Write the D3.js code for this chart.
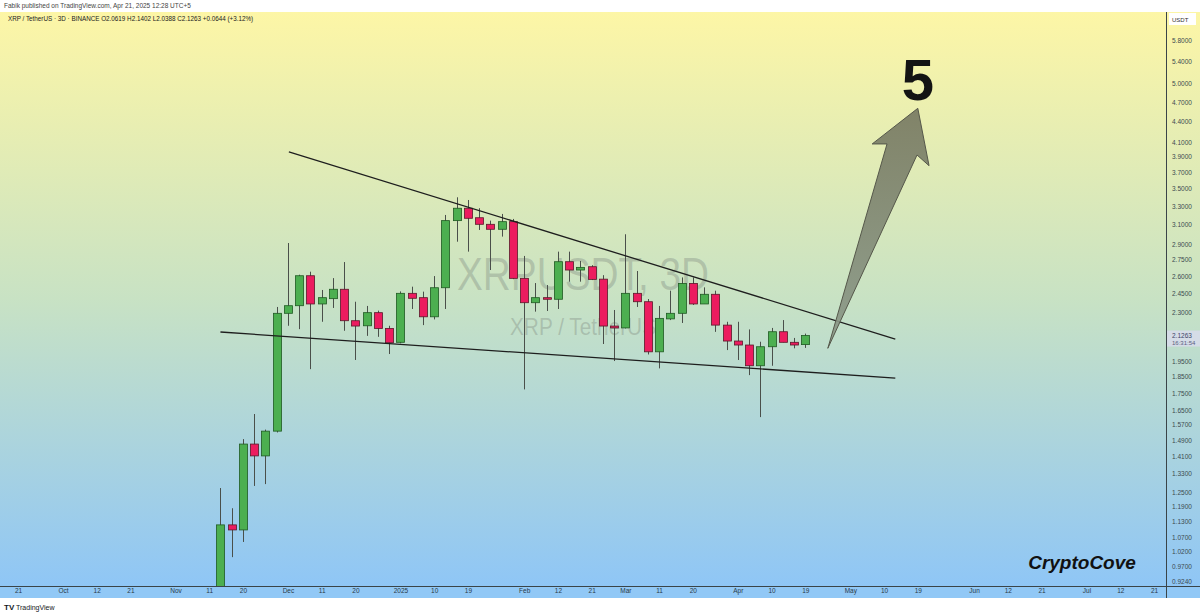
<!DOCTYPE html>
<html>
<head>
<meta charset="utf-8">
<script src="https://cdn.jsdelivr.net/npm/d3@7"></script>
<style>
  body { margin: 0; background: #fff; }
  text { font-family: "Liberation Sans", "DejaVu Sans", sans-serif; }
</style>
</head>
<body>
<div id="chart"></div>
<script>
var w = 1200;
var h = 616;
var plot = {left: 0, right: 1166, top: 12, bottom: 586};

// 3D candles, XRP / TetherUS (Binance)
var candleDates = ["2024-11-14","2024-11-17","2024-11-20","2024-11-23","2024-11-26","2024-11-29",
  "2024-12-02","2024-12-05","2024-12-08","2024-12-11","2024-12-14","2024-12-17","2024-12-20",
  "2024-12-23","2024-12-26","2024-12-29","2025-01-01","2025-01-04","2025-01-07","2025-01-10",
  "2025-01-13","2025-01-16","2025-01-19","2025-01-22","2025-01-25","2025-01-28","2025-01-31",
  "2025-02-03","2025-02-06","2025-02-09","2025-02-12","2025-02-15","2025-02-18","2025-02-21",
  "2025-02-24","2025-02-27","2025-03-02","2025-03-05","2025-03-08","2025-03-11","2025-03-14",
  "2025-03-17","2025-03-20","2025-03-23","2025-03-26","2025-03-29","2025-04-01","2025-04-04",
  "2025-04-07","2025-04-10","2025-04-13","2025-04-16","2025-04-19"];
var opens  = [0.730,1.118,1.099,1.471,1.413,1.537,2.293,2.353,2.605,2.367,2.410,2.488,2.236,
  2.198,2.298,2.178,2.078,2.454,2.418,2.266,2.501,3.141,3.276,3.172,3.102,3.050,3.130,2.582,
  2.377,2.418,2.405,2.732,2.656,2.686,2.575,2.196,2.182,2.454,2.385,2.012,2.250,2.293,2.538,
  2.367,2.446,2.203,2.087,2.059,1.919,2.047,2.154,2.078,2.0619];
var highs  = [1.267,1.183,1.496,1.629,1.545,2.343,2.911,2.614,2.641,2.482,2.584,2.729,2.385,
  2.351,2.314,2.198,2.470,2.510,2.468,2.602,3.202,3.400,3.369,3.276,3.141,3.213,3.159,2.786,
  2.541,2.524,2.827,2.827,2.739,2.700,2.610,2.319,2.999,2.647,2.407,2.351,2.476,2.590,2.590,
  2.504,2.476,2.228,2.228,2.171,2.082,2.182,2.241,2.109,2.1402];
var lows   = [0.700,1.002,1.055,1.276,1.284,1.530,2.198,2.173,1.897,2.228,2.335,2.161,1.957,
  2.124,2.117,1.997,2.071,2.327,2.203,2.246,2.327,2.924,2.827,3.043,2.656,2.975,2.575,1.771,
  2.306,2.311,2.327,2.553,2.553,2.567,2.066,1.950,2.178,2.343,1.994,1.902,2.241,2.219,2.359,
  2.367,2.153,2.024,1.957,1.859,1.612,1.919,2.078,2.036,2.0388];
var closes = [1.118,1.099,1.471,1.413,1.537,2.293,2.353,2.605,2.367,2.418,2.488,2.236,2.196,
  2.298,2.178,2.075,2.454,2.413,2.266,2.501,3.141,3.276,3.166,3.102,3.050,3.130,2.582,2.377,
  2.418,2.405,2.732,2.656,2.680,2.573,2.196,2.182,2.454,2.385,2.012,2.254,2.293,2.538,2.367,
  2.446,2.203,2.087,2.059,1.919,2.047,2.154,2.078,2.059,2.1263];

// price axis ticks (the two behind the last price label are left out)
var priceTicks = [5.8,5.4,5.0,4.7,4.4,4.1,3.9,3.7,3.5,3.3,3.1,2.9,2.75,2.6,2.45,2.3,
  1.95,1.85,1.75,1.65,1.57,1.49,1.41,1.33,1.25,1.19,1.13,1.07,1.02,0.97,0.924];

// time axis ticks
var timeTicks = ["2024-09-21","2024-10-03","2024-10-12","2024-10-21","2024-11-02","2024-11-11",
  "2024-11-20","2024-12-02","2024-12-11","2024-12-20","2025-01-01","2025-01-10","2025-01-19",
  "2025-02-03","2025-02-12","2025-02-21","2025-03-02","2025-03-11","2025-03-20","2025-04-01",
  "2025-04-10","2025-04-19","2025-05-01","2025-05-10","2025-05-19","2025-06-03","2025-06-12",
  "2025-06-21","2025-07-03","2025-07-12","2025-07-21"];
var timeLabels = ["21","Oct","12","21","Nov","11","20","Dec","11","20","2025","10","19",
  "Feb","12","21","Mar","11","20","Apr","10","19","May","10","19","Jun","12","21","Jul","12","21"];

// drawn trendlines [date, price]
var upperLine = [["2024-12-02T06:00", 3.966], ["2025-05-13", 2.101]];
var lowerLine = [["2024-11-14", 2.152], ["2025-05-13", 1.840]];

// hand drawn arrow [date, price]
var arrowPts = [["2025-04-25", 2.036], ["2025-05-10T19:00", 4.075], ["2025-05-06T20:00", 4.075],
  ["2025-05-19", 4.599], ["2025-05-22", 3.785], ["2025-05-18T19:00", 3.925]];

var parse = function(s) { return new Date(s + (s.length === 10 ? "T00:00Z" : "Z")); };

var x = d3.scaleUtc()
  .domain([parse("2024-09-21"), parse("2025-07-21")])
  .range([18, 1154]);

var y = d3.scaleLog()
  .domain([0.9085, 6.378])
  .range([plot.bottom, plot.top]);

var candles = candleDates.map(function(d, i) {
  return {date: parse(d), o: opens[i], h: highs[i], l: lows[i], c: closes[i]};
});

var svg = d3.select("#chart").append("svg")
  .attr("width", w)
  .attr("height", h);

var defs = svg.append("defs");
var bg = defs.append("linearGradient").attr("id", "bg")
  .attr("x1", 0).attr("y1", 0).attr("x2", 0).attr("y2", 1);
bg.append("stop").attr("offset", "0%").attr("stop-color", "#fdf6a6");
bg.append("stop").attr("offset", "50%").attr("stop-color", "#c8e2c4");
bg.append("stop").attr("offset", "100%").attr("stop-color", "#8fc6f6");

var ag = defs.append("linearGradient").attr("id", "arrowFill")
  .attr("x1", 0).attr("y1", 0).attr("x2", 0).attr("y2", 1);
ag.append("stop").attr("offset", "0%").attr("stop-color", "#787a62");
ag.append("stop").attr("offset", "100%").attr("stop-color", "#8c9a8a");

defs.append("clipPath").attr("id", "clip")
  .append("rect")
  .attr("x", plot.left).attr("y", plot.top)
  .attr("width", plot.right - plot.left).attr("height", plot.bottom - plot.top);

//Background
svg.append("rect").attr("width", w).attr("height", h).attr("fill", "#fff");
svg.append("rect")
  .attr("x", 0).attr("y", plot.top)
  .attr("width", w).attr("height", plot.bottom - plot.top)
  .attr("fill", "url(#bg)");
svg.append("rect")
  .attr("x", 0).attr("y", plot.bottom)
  .attr("width", w).attr("height", 12)
  .attr("fill", "#91c8f6");

var g = svg.append("g").attr("clip-path", "url(#clip)");

//Watermark
g.append("text")
  .attr("x", 583).attr("y", 290)
  .attr("text-anchor", "middle")
  .attr("font-size", 47)
  .attr("textLength", 252)
  .attr("lengthAdjust", "spacingAndGlyphs")
  .attr("fill", "#7f8a80").attr("fill-opacity", 0.38)
  .text("XRPUSDT, 3D");
g.append("text")
  .attr("x", 583).attr("y", 335)
  .attr("text-anchor", "middle")
  .attr("font-size", 24)
  .attr("textLength", 146)
  .attr("lengthAdjust", "spacingAndGlyphs")
  .attr("fill", "#7f8a80").attr("fill-opacity", 0.38)
  .text("XRP / TetherUS");

//Candles
var bw = 8;
var cg = g.selectAll(".candle")
  .data(candles)
  .join("g")
  .attr("class", "candle");

cg.append("line")
  .attr("x1", d => Math.round(x(d.date)) + 0.5)
  .attr("x2", d => Math.round(x(d.date)) + 0.5)
  .attr("y1", d => y(d.h))
  .attr("y2", d => y(d.l))
  .attr("stroke", "#4a4f4a")
  .attr("stroke-width", 1);

cg.append("rect")
  .attr("x", d => Math.round(x(d.date)) - bw / 2 + 0.5)
  .attr("y", d => y(Math.max(d.o, d.c)))
  .attr("width", bw)
  .attr("height", d => Math.max(1.5, Math.abs(y(d.o) - y(d.c))))
  .attr("fill", d => d.c >= d.o ? "#4caf50" : "#ec1c5f")
  .attr("stroke", d => d.c >= d.o ? "#1f5a22" : "#5a1a2a")
  .attr("stroke-width", 0.8);

//Trendlines
var line = d3.line()
  .x(d => x(parse(d[0])))
  .y(d => y(d[1]));

[upperLine, lowerLine].forEach(function(l) {
  g.append("path")
    .attr("d", line(l))
    .attr("fill", "none")
    .attr("stroke", "#1e1e1e")
    .attr("stroke-width", 1.3);
});

//Arrow
g.append("path")
  .attr("d", line(arrowPts) + "Z")
  .attr("fill", "url(#arrowFill)")
  .attr("fill-opacity", 0.92)
  .attr("stroke", "#55574a")
  .attr("stroke-width", 1)
  .attr("stroke-linejoin", "miter");

svg.append("text")
  .attr("x", 918).attr("y", 100)
  .attr("text-anchor", "middle")
  .attr("font-family", "Liberation Sans, Arial, sans-serif")
  .attr("font-weight", "bold")
  .attr("font-size", 58)
  .attr("fill", "#141414")
  .text("5");

svg.append("text")
  .attr("x", 1082).attr("y", 569)
  .attr("text-anchor", "middle")
  .attr("font-weight", "bold")
  .attr("font-style", "italic")
  .attr("font-size", 19)
  .attr("fill", "#111")
  .text("CryptoCove");

//Axes
var yAxis = d3.axisRight(y)
  .tickValues(priceTicks)
  .tickSize(0)
  .tickPadding(6)
  .tickFormat(d3.format(".4f"));

var ya = svg.append("g")
  .attr("transform", "translate(" + plot.right + ",0)")
  .call(yAxis);
ya.select(".domain").remove();
ya.selectAll("text")
  .attr("font-family", "Liberation Sans, sans-serif")
  .attr("font-size", 6.5)
  .attr("fill", "#3c4a50");

var xAxis = d3.axisBottom(x)
  .tickValues(timeTicks.map(parse))
  .tickSize(0)
  .tickPadding(2)
  .tickFormat((d, i) => timeLabels[i]);

var xa = svg.append("g")
  .attr("transform", "translate(0," + plot.bottom + ")")
  .call(xAxis);
xa.select(".domain").remove();
xa.selectAll("text")
  .attr("font-family", "Liberation Sans, sans-serif")
  .attr("font-size", 6.5)
  .attr("fill", "#2a3a48");

//Axis lines
svg.append("line")
  .attr("x1", plot.right + 0.5).attr("x2", plot.right + 0.5)
  .attr("y1", plot.top).attr("y2", plot.bottom + 12)
  .attr("stroke", "#3a4448").attr("stroke-width", 1);
svg.append("line")
  .attr("x1", 0).attr("x2", w)
  .attr("y1", plot.bottom + 0.5).attr("y2", plot.bottom + 0.5)
  .attr("stroke", "#3a4448").attr("stroke-width", 1);

//Last price label
var last = candles[candles.length - 1];
var ly = y(last.c);
svg.append("rect")
  .attr("x", plot.right + 1).attr("y", ly - 5)
  .attr("width", w - plot.right - 1).attr("height", 16)
  .attr("fill", "#d6dbe8").attr("fill-opacity", 0.95);
svg.append("text")
  .attr("x", plot.right + 6).attr("y", ly + 2)
  .attr("font-size", 6.5)
  .attr("fill", "#3c4468")
  .text(d3.format(".4f")(last.c));
svg.append("text")
  .attr("x", plot.right + 6).attr("y", ly + 9)
  .attr("font-size", 6)
  .attr("fill", "#5a6080")
  .text("16:31:54");

//Currency box
svg.append("rect")
  .attr("x", plot.right + 3).attr("y", 13)
  .attr("width", 27).attr("height", 12)
  .attr("fill", "#fff");
svg.append("text")
  .attr("x", plot.right + 6).attr("y", 21.5)
  .attr("font-size", 6)
  .attr("fill", "#333")
  .text("USDT");

//Header texts
svg.append("text")
  .attr("x", 4).attr("y", 8)
  .attr("font-size", 6.5)
  .attr("fill", "#444")
  .text("Fabik published on TradingView.com, Apr 21, 2025 12:28 UTC+5");

svg.append("text")
  .attr("x", 8).attr("y", 21)
  .attr("font-size", 6.3)
  .attr("fill", "#222")
  .text("XRP / TetherUS · 3D · BINANCE   O2.0619  H2.1402  L2.0388  C2.1263  +0.0644 (+3.12%)");

//TradingView logo
svg.append("text")
  .attr("x", 4).attr("y", 610)
  .attr("font-size", 8)
  .attr("font-weight", "bold")
  .attr("fill", "#131722")
  .text("TV");
svg.append("text")
  .attr("x", 16).attr("y", 610)
  .attr("font-size", 7)
  .attr("fill", "#131722")
  .text("TradingView");
</script>
</body>
</html>
